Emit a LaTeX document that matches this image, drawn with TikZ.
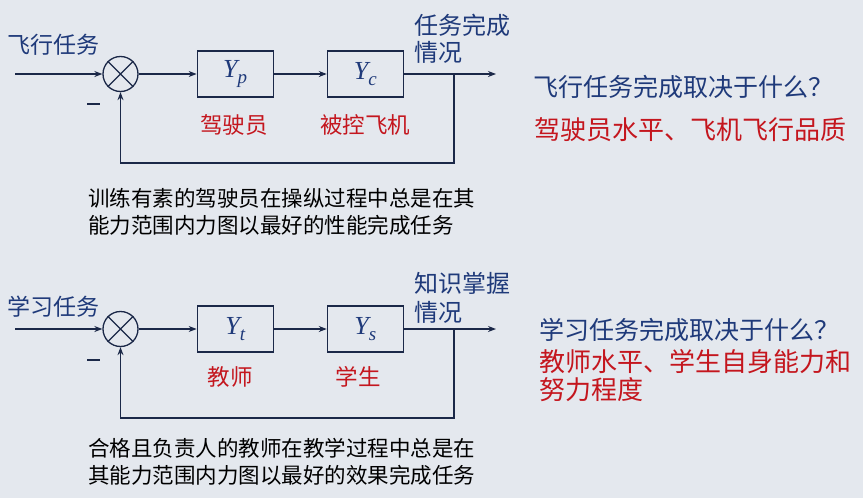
\documentclass[tikz,border=0pt]{standalone}
\usepackage{fontspec}
\setmainfont{Noto Sans CJK SC}
\newfontfamily\symfont{Liberation Serif}
\usetikzlibrary{positioning, arrows.meta}
\definecolor{bgcol}{RGB}{228,232,238}
\definecolor{navy}{RGB}{31,58,122}
\definecolor{linecol}{RGB}{27,40,72}
\definecolor{redtxt}{RGB}{196,22,30}

\newcommand{\blocksym}[1]{{\symfont\itshape Y\raisebox{-0.25em}{\fontsize{19}{19}\selectfont #1}}}

\tikzset{
  sum/.style={circle, draw=linecol, line width=1.3pt, minimum size=35pt, inner sep=0pt},
  block/.style={rectangle, draw=linecol, line width=1.1pt, minimum width=76pt,
    minimum height=46pt, text=navy, font=\fontsize{26}{26}\selectfont},
  wire/.style={draw=linecol, line width=1.3pt},
  sig/.style={wire, -{Stealth[length=8pt,width=6pt]}},
  bluetxt/.style={text=navy, font=\fontsize{23}{27}\selectfont, inner sep=0pt, align=left},
  redlbl/.style={text=redtxt, font=\fontsize{22.5}{27}\selectfont, inner sep=0pt},
  note/.style={text=black, font=\fontsize{21.5}{27}\selectfont, inner sep=0pt, align=left, anchor=west},
  question/.style={text=navy, font=\fontsize{25}{30}\selectfont, inner sep=0pt, anchor=west},
  answer/.style={text=redtxt, font=\fontsize{26}{28}\selectfont, inner sep=0pt, align=left, anchor=west},
}

\begin{document}
\begin{tikzpicture}[x=1pt, y=-1pt]
  \fill[bgcol] (0,0) rectangle (863,498);
  \useasboundingbox (0,0) rectangle (863,498);

  % flight task loop
  \node[sum] (s1) at (120.5,74) {};
  \node[block, right=58pt of s1] (b1) {\blocksym{p}};
  \node[block, right=53pt of b1] (b2) {\blocksym{c}};
  \coordinate (in1) at (15,74);
  \coordinate (br1) at (454,74);
  \coordinate (out1) at (496,74);
  \draw[wire] (s1.north west) -- (s1.south east) (s1.north east) -- (s1.south west);
  \draw[sig] (in1) -- (s1);
  \draw[sig] (s1) -- (b1);
  \draw[sig] (b1) -- (b2);
  \draw[sig] (b2) -- (out1);
  \draw[sig] (br1) -- ++(0,89) -| (s1.south);
  \node[bluetxt] (task1) at (54,45) {飞行任务};
  \node[bluetxt, anchor=west, font=\fontsize{24}{27}\selectfont] (res1) at (414,38.5) {任务完成\\情况};
  \draw[wire, line width=1.8pt] (87,104) -- (100,104);
  \node[redlbl] (lb1) at (234,125) {驾驶员};
  \node[redlbl] (lb2) at (365,125) {被控飞机};
  \node[note] (note1) at (88,211.5) {训练有素的驾驶员在操纵过程中总是在其\\能力范围内力图以最好的性能完成任务};

  % learning task loop
  \node[sum] (s2) at (120.5,329) {};
  \node[block, right=58pt of s2] (b3) {\blocksym{t}};
  \node[block, right=53pt of b3] (b4) {\blocksym{s}};
  \coordinate (in2) at (15,329);
  \coordinate (br2) at (454,329);
  \coordinate (out2) at (496,329);
  \draw[wire] (s2.north west) -- (s2.south east) (s2.north east) -- (s2.south west);
  \draw[sig] (in2) -- (s2);
  \draw[sig] (s2) -- (b3);
  \draw[sig] (b3) -- (b4);
  \draw[sig] (b4) -- (out2);
  \draw[sig] (br2) -- ++(0,89) -| (s2.south);
  \node[bluetxt] (task2) at (54,307) {学习任务};
  \node[bluetxt, anchor=west, font=\fontsize{24}{29}\selectfont] (res2) at (414,297.5) {知识掌握\\情况};
  \draw[wire, line width=1.8pt] (87,360) -- (100,360);
  \node[redlbl] (lb3) at (230,377) {教师};
  \node[redlbl] (lb4) at (358,377) {学生};
  \node[note] (note2) at (88,462) {合格且负责人的教师在教学过程中总是在\\其能力范围内力图以最好的效果完成任务};

  % questions
  \node[question] (q1) at (533,87) {飞行任务完成取决于什么？};
  \node[answer] (a1) at (534,130) {驾驶员水平、飞机飞行品质};
  \node[question] (q2) at (539,330) {学习任务完成取决于什么？};
  \node[answer] (a2) at (539,376) {教师水平、学生自身能力和\\努力程度};
\end{tikzpicture}
\end{document}
